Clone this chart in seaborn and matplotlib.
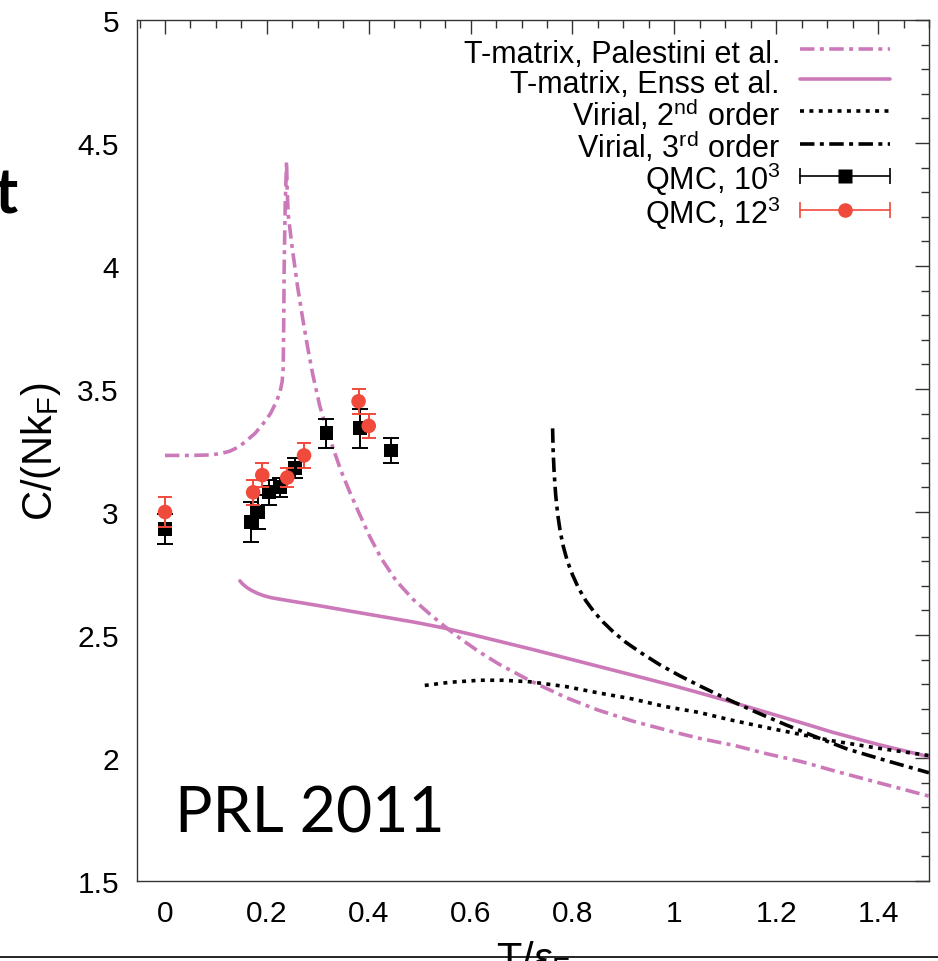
import numpy as np
import pandas as pd
import matplotlib
matplotlib.use("Agg")
import matplotlib.pyplot as plt
import seaborn as sns
from matplotlib.lines import Line2D
from matplotlib.legend_handler import HandlerBase
from matplotlib.ticker import MultipleLocator, FuncFormatter

# ---------------- data ----------------
pal_x = [0.0, 0.05, 0.09, 0.11, 0.127, 0.145, 0.16, 0.177, 0.193, 0.207, 0.219, 0.226,
         0.230, 0.232, 0.233, 0.234, 0.236, 0.2386, 0.240, 0.242, 0.25, 0.26, 0.27, 0.28,
         0.29, 0.304, 0.317, 0.33, 0.345, 0.363, 0.38, 0.402, 0.425, 0.454, 0.487, 0.52,
         0.549, 0.58, 0.618, 0.657, 0.716, 0.788, 0.85, 0.918, 1.0, 1.049, 1.12, 1.18,
         1.25, 1.31, 1.4, 1.5]
pal_y = [3.23, 3.23, 3.232, 3.238, 3.247, 3.265, 3.29, 3.32, 3.36, 3.40, 3.45, 3.49,
         3.53, 3.585, 3.75, 4.0, 4.25, 4.425, 4.3, 4.206, 4.07, 3.92, 3.79, 3.67,
         3.56, 3.43, 3.34, 3.26, 3.17, 3.08, 3.00, 2.90, 2.81, 2.72, 2.645, 2.585,
         2.535, 2.485, 2.43, 2.38, 2.315, 2.245, 2.195, 2.15, 2.105, 2.08, 2.05, 2.018,
         1.985, 1.95, 1.90, 1.845]

enss_x = [0.147, 0.152, 0.16, 0.17, 0.182, 0.195, 0.21, 0.23, 0.25, 0.3, 0.35, 0.42,
          0.49, 0.549, 0.6, 0.657, 0.72, 0.788, 0.85, 0.918, 1.0, 1.049, 1.1, 1.18, 1.25,
          1.31, 1.4, 1.5]
enss_y = [2.72, 2.708, 2.694, 2.681, 2.669, 2.659, 2.651, 2.644, 2.637, 2.62, 2.602, 2.577,
          2.552, 2.528, 2.503, 2.474, 2.442, 2.406, 2.373, 2.337, 2.293, 2.265, 2.235, 2.186,
          2.143, 2.105, 2.055, 2.005]

vir2_x = [0.51, 0.56, 0.618, 0.663, 0.716, 0.788, 0.85, 0.918, 0.98, 1.049, 1.11, 1.18,
          1.25, 1.31, 1.4, 1.5]
vir2_y = [2.295, 2.308, 2.316, 2.316, 2.31, 2.29, 2.265, 2.24, 2.21, 2.185, 2.155, 2.124,
          2.095, 2.07, 2.04, 2.01]

vir3_x = [0.761, 0.762, 0.764, 0.767, 0.771, 0.776, 0.782, 0.79, 0.80, 0.812, 0.826,
          0.842, 0.86, 0.88, 0.905, 0.935, 0.97, 1.01, 1.05, 1.1, 1.16, 1.22, 1.28, 1.34,
          1.42, 1.5]
vir3_y = [3.34, 3.25, 3.16, 3.07, 2.99, 2.92, 2.86, 2.80, 2.745, 2.69, 2.64,
          2.595, 2.553, 2.513, 2.47, 2.427, 2.381, 2.335, 2.293, 2.243, 2.187, 2.134,
          2.084, 2.036, 1.987, 1.94]

qmc10_x = [0.0, 0.168, 0.183, 0.204, 0.225, 0.256, 0.317, 0.382, 0.444]
qmc10_y = [2.93, 2.96, 3.00, 3.08, 3.10, 3.18, 3.32, 3.34, 3.25]
qmc10_e = [0.06, 0.08, 0.07, 0.05, 0.04, 0.04, 0.06, 0.08, 0.05]

qmc12_x = [0.0, 0.173, 0.191, 0.24, 0.273, 0.380, 0.40]
qmc12_y = [3.00, 3.08, 3.15, 3.14, 3.23, 3.45, 3.35]
qmc12_e = [0.06, 0.05, 0.05, 0.04, 0.05, 0.05, 0.05]

labels = ["T-matrix, Palestini et al.", "T-matrix, Enss et al.",
          r"Virial, 2$^{\mathrm{nd}}$ order", r"Virial, 3$^{\mathrm{rd}}$ order",
          r"QMC, 10$^{3}$", r"QMC, 12$^{3}$"]
xticks = [0, 0.2, 0.4, 0.6, 0.8, 1.0, 1.2, 1.4]
yticks = [1.5, 2, 2.5, 3, 3.5, 4, 4.5, 5]

# ---------------- style ----------------
sns.set_theme(style="white")
plt.rcParams["font.family"] = ["Liberation Sans", "DejaVu Sans"]
plt.rcParams["mathtext.fontset"] = "custom"
plt.rcParams["mathtext.rm"] = "Liberation Sans"
plt.rcParams["mathtext.it"] = "Liberation Sans:italic"
plt.rcParams["mathtext.bf"] = "Liberation Sans:bold"
plt.rcParams["text.color"] = "black"
plt.rcParams["axes.labelcolor"] = "black"
plt.rcParams["xtick.color"] = "black"
plt.rcParams["ytick.color"] = "black"

PINK = "#cc79b9"
RED = "#f04a3c"
SPINE = "#333333"

fig = plt.figure(figsize=(9.38, 9.62), dpi=100)
ax = fig.add_axes([137 / 938, 1 - 882 / 962, 792 / 938, 861 / 962])

lw = 2.6
dashdot = (0, (4.0, 1.5, 1.1, 1.5))
sns.lineplot(x=pal_x, y=pal_y, ax=ax, color=PINK, lw=lw, sort=False, estimator=None,
             linestyle=dashdot, label=labels[0], legend=False)
sns.lineplot(x=enss_x, y=enss_y, ax=ax, color=PINK, lw=lw, sort=False, estimator=None,
             label=labels[1], legend=False)
sns.lineplot(x=vir2_x, y=vir2_y, ax=ax, color="black", lw=lw, sort=False, estimator=None,
             linestyle=(0, (1.1, 1.5)), label=labels[2], legend=False)
sns.lineplot(x=vir3_x, y=vir3_y, ax=ax, color="black", lw=lw, sort=False, estimator=None,
             linestyle=dashdot, label=labels[3], legend=False)

ax.errorbar(qmc10_x, qmc10_y, yerr=qmc10_e, fmt="none", ecolor="black", elinewidth=1.4,
            capsize=5.5, capthick=1.4, zorder=4)
sns.scatterplot(x=qmc10_x, y=qmc10_y, ax=ax, marker="s", color="black", s=100,
                edgecolor="none", zorder=5, legend=False)
ax.errorbar(qmc12_x, qmc12_y, yerr=qmc12_e, fmt="none", ecolor=RED, elinewidth=1.4,
            capsize=5.0, capthick=1.4, zorder=6)
sns.scatterplot(x=qmc12_x, y=qmc12_y, ax=ax, marker="o", color=RED, s=110,
                edgecolor="none", zorder=7, legend=False)

# ---------------- axes ----------------
ax.set_xlim(-0.055, 1.5)
ax.set_ylim(1.5, 5)
ax.set_xticks(xticks)
ax.set_yticks(yticks)
ax.xaxis.set_minor_locator(MultipleLocator(0.05))
ax.yaxis.set_minor_locator(MultipleLocator(0.1))
fmt = FuncFormatter(lambda v, p: "%g" % v)
ax.xaxis.set_major_formatter(fmt)
ax.yaxis.set_major_formatter(fmt)
ax.tick_params(which="both", direction="in", top=True, right=True, color=SPINE,
               width=1.0, labelsize=21.5, pad=13, labelcolor="black")
ax.tick_params(which="major", length=10)
ax.tick_params(which="minor", length=6)
for s in ax.spines.values():
    s.set_color(SPINE)
    s.set_linewidth(1.0)
ax.grid(False)

ax.set_ylabel(r"C/(Nk$_{\mathrm{F}}$)", fontsize=30, labelpad=10)
ax.set_xlabel(r"T/$\epsilon_{\mathrm{F}}$", fontsize=30, labelpad=8)

# ---------------- legend ----------------
class HandlerErrH(HandlerBase):
    def __init__(self, color, marker, ms):
        super().__init__()
        self.c, self.m, self.ms = color, marker, ms

    def create_artists(self, legend, orig_handle, xdescent, ydescent, width, height,
                       fontsize, trans):
        y = (height - ydescent) / 2.0
        x0, x1 = -xdescent, width - xdescent
        line = Line2D([x0, x1], [y, y], color=self.c, lw=1.2)
        caps = Line2D([x0, x1], [y, y], ls="none", marker="|", ms=12, mew=1.2, color=self.c)
        mk = Line2D([(x0 + x1) / 2], [y], ls="none", marker=self.m, ms=self.ms,
                    color=self.c, mec="none")
        for a in (line, caps, mk):
            a.set_transform(trans)
        return [line, caps, mk]

h = ax.get_lines()[:4]
h10 = Line2D([], [], color="black")
h12 = Line2D([], [], color=RED)
ax.legend(list(h) + [h10, h12], labels, loc="upper right",
          bbox_to_anchor=((890 - 137) / 792, 1 - (37 - 21) / 861),
          frameon=False, markerfirst=False, fontsize=22, handlelength=2.95,
          handleheight=1.25, handletextpad=0.65, labelspacing=-0.12, borderpad=0,
          borderaxespad=0,
          handler_map={h10: HandlerErrH("black", "s", 10), h12: HandlerErrH(RED, "o", 10.5)})

# ---------------- extra slide text ----------------
fig.text(175 / 938, 1 - 833 / 962, "PRL 2011", fontsize=45, family=["Lato", "DejaVu Sans"],
         ha="left", va="baseline", color="black")
fig.text(18 / 938, 1 - 213 / 962, "t", fontsize=45, family=["Lato", "DejaVu Sans"],
         fontweight="bold", ha="right", va="baseline", color="black")
fig.add_artist(Line2D([0, 1], [1 - 958 / 962, 1 - 958 / 962], transform=fig.transFigure,
                      color="black", lw=1.2, zorder=10))

fig.savefig("out.png", dpi=100)
